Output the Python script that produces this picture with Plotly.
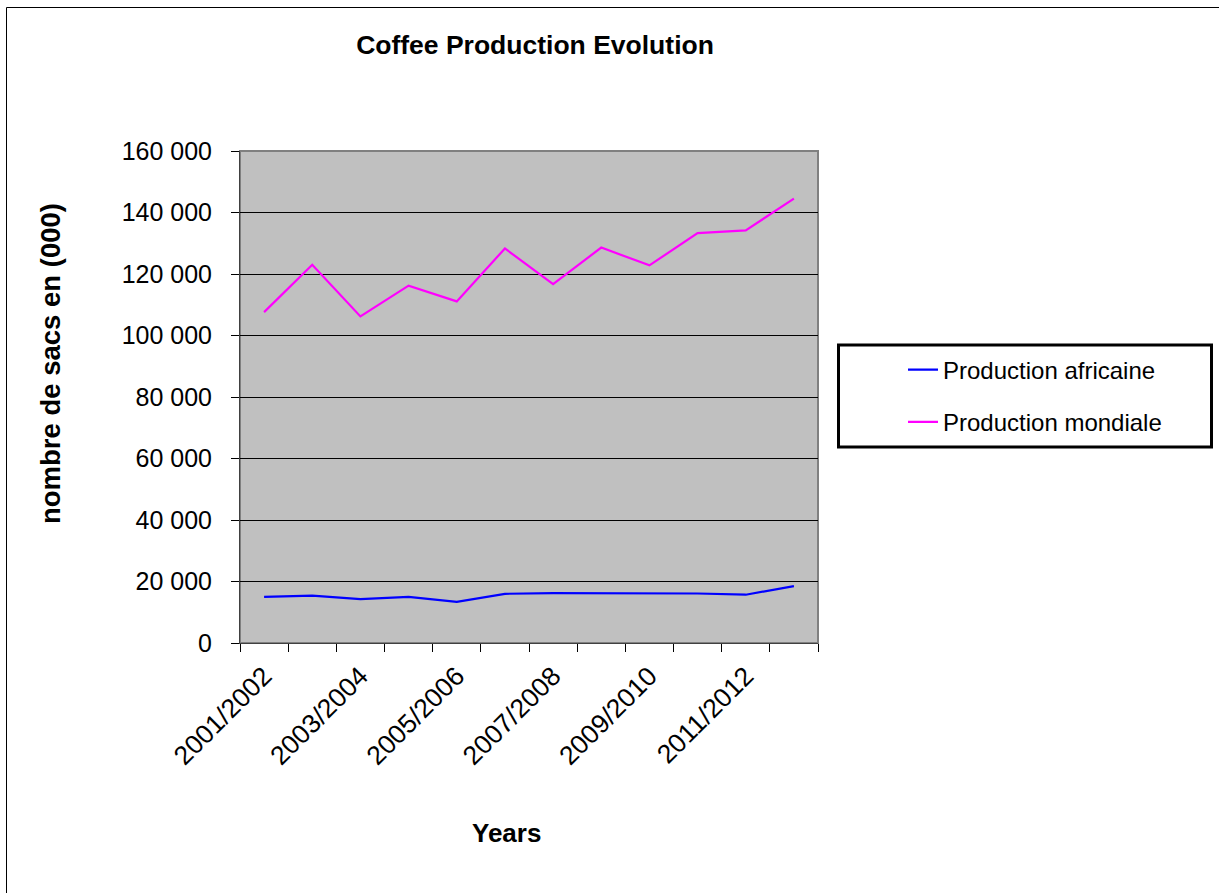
import plotly.graph_objects as go

# ---- data ----
seasons = ["2001/2002", "2002/2003", "2003/2004", "2004/2005", "2005/2006", "2006/2007",
           "2007/2008", "2008/2009", "2009/2010", "2010/2011", "2011/2012", "2012/2013"]
prod_africaine = [15000, 15400, 14300, 15000, 13400, 16000, 16200, 16200, 16100, 16100, 15700, 18500]
prod_mondiale = [107600, 123000, 106200, 116200, 111100, 128300, 116700, 128600, 122800, 133300, 134200, 144500]
y_ticks = [0, 20000, 40000, 60000, 80000, 100000, 120000, 140000, 160000]

W, H = 1219, 893
L, R, T, B = 240, 818, 151, 643
pw, ph = R - L, B - T


def xp(px):
    return (px - L) / pw


def yp(py):
    return (B - py) / ph


idx = list(range(len(seasons)))
label_idx = idx[::2]

FONT = "Liberation Sans, Arial, sans-serif"

fig = go.Figure()
fig.add_trace(go.Scatter(x=idx, y=prod_africaine, mode="lines", name="Production africaine",
                         line=dict(color="#0000FF", width=2.2), legendgroup="a"))
fig.add_trace(go.Scatter(x=idx, y=prod_mondiale, mode="lines", name="Production mondiale",
                         line=dict(color="#FF00FF", width=2.2), legendgroup="m"))

fig.update_layout(
    width=W, height=H,
    margin=dict(l=L, r=W - R, t=T, b=H - B, autoexpand=False),
    paper_bgcolor="white",
    plot_bgcolor="#C0C0C0",
    separators=", ",
    font=dict(family=FONT, color="black", size=25),
    title=dict(text="Coffee Production Evolution", x=535 / W, xanchor="center",
               y=1 - 45 / H, yanchor="middle", xref="container", yref="container",
               font=dict(family=FONT, size=26.5, weight="bold")),
    showlegend=True,
    legend=dict(x=xp(903), xanchor="left", y=yp(396), yanchor="middle",
                bgcolor="rgba(0,0,0,0)", borderwidth=0, traceorder="grouped",
                tracegroupgap=18, font=dict(family=FONT, size=24)),
)

fig.update_xaxes(
    range=[-0.5, len(seasons) - 0.5],
    tickmode="array", tickvals=label_idx, ticktext=[seasons[i] for i in label_idx],
    tickangle=-45, ticks="outside", ticklen=6, tickcolor="rgba(0,0,0,0)",
    tickfont=dict(family=FONT, size=26.5),
    minor=dict(tickmode="array", tickvals=[i - 0.5 for i in range(len(seasons) + 1)],
               ticks="outside", ticklen=8, tickcolor="black", tickwidth=1, showgrid=False),
    showgrid=False, zeroline=False,
    showline=True, linecolor="#404040", linewidth=1,
)
fig.update_yaxes(
    range=[0, 160000], tickmode="array", tickvals=y_ticks,
    tickformat=",d", ticks="outside", ticklen=8, tickcolor="black",
    ticklabelstandoff=14,
    tickfont=dict(family=FONT, size=25),
    showgrid=True, gridcolor="black", gridwidth=1,
    zeroline=False, showline=True, linecolor="#404040", linewidth=1,
)

# axis titles
fig.add_annotation(text="Years", xref="paper", yref="paper", x=xp(506), y=yp(833),
                   xanchor="center", yanchor="middle", showarrow=False,
                   font=dict(family=FONT, size=26, weight="bold"))
fig.add_annotation(text="nombre de sacs en (000)", xref="paper", yref="paper",
                   x=xp(50), y=yp(364), xanchor="center", yanchor="middle",
                   textangle=-90, showarrow=False,
                   font=dict(family=FONT, size=27.5, weight="bold"))

# plot area border
fig.add_shape(type="rect", xref="paper", yref="paper", x0=0, x1=1, y0=0, y1=1,
              line=dict(color="#808080", width=2), layer="below")
# legend box
fig.add_shape(type="rect", xref="paper", yref="paper",
              x0=xp(838.5), x1=xp(1211.5), y0=yp(447), y1=yp(345),
              line=dict(color="black", width=3), fillcolor="white", layer="below")
# chart outer border
fig.add_shape(type="rect", xref="paper", yref="paper",
              x0=xp(6.5), x1=xp(1240), y0=yp(910), y1=yp(7.5),
              line=dict(color="black", width=1), layer="below")

fig.write_html("out.html")
